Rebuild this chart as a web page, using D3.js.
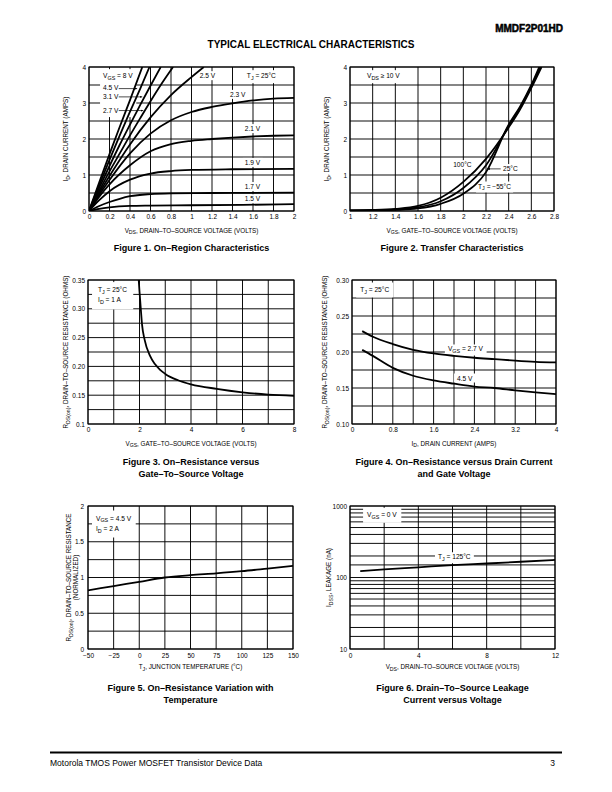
<!DOCTYPE html>
<html><head><meta charset="utf-8">
<script src="https://cdn.jsdelivr.net/npm/d3@7/dist/d3.min.js"></script>
<style>
body{margin:0;background:#fff}
svg{display:block}
text{font-family:"Liberation Sans",Arial,Helvetica,sans-serif;fill:#000}
</style>
</head><body>
<svg id="page" width="612" height="792"></svg>
<script>
// ---------------- DATA ----------------
// Figure 1: On-region characteristics, [VDS, ID]
const fig1XTicks = ["0","0.2","0.4","0.6","0.8","1","1.2","1.4","1.6","1.8","2"];
const fig1YTicks = ["0","1","2","3","4"];
const fig1Vgs8V   = [[0,0],[0.1,0.8],[0.2,1.58],[0.3,2.34],[0.4,3.08],[0.52,4.0]];
const fig1Vgs4p5V = [[0,0],[0.1,0.72],[0.2,1.42],[0.3,2.1],[0.4,2.76],[0.5,3.4],[0.59,4.0]];
const fig1Vgs3p1V = [[0,0],[0.1,0.64],[0.2,1.25],[0.3,1.84],[0.4,2.4],[0.5,2.95],[0.6,3.48],[0.7,4.0]];
const fig1Vgs2p7V = [[0,0],[0.1,0.56],[0.2,1.1],[0.3,1.6],[0.4,2.1],[0.5,2.58],[0.6,3.05],[0.7,3.5],[0.82,4.0]];
const fig1Vgs2p5V = [[0,0],[0.1,0.5],[0.2,0.97],[0.4,1.85],[0.6,2.6],[0.8,3.22],[1.0,3.72],[1.12,4.0]];
const fig1Vgs2p3V = [[0,0],[0.1,0.45],[0.2,0.86],[0.4,1.6],[0.6,2.15],[0.8,2.52],[1.0,2.75],[1.2,2.89],[1.4,2.99],[1.6,3.07],[1.8,3.12],[2.0,3.14]];
const fig1Vgs2p1V = [[0,0],[0.1,0.4],[0.2,0.74],[0.4,1.27],[0.6,1.66],[0.8,1.86],[1.0,1.95],[1.2,2.0],[1.4,2.04],[1.6,2.07],[1.8,2.09],[2.0,2.1]];
const fig1Vgs1p9V = [[0,0],[0.1,0.3],[0.2,0.55],[0.4,0.87],[0.6,1.04],[0.8,1.11],[1.0,1.14],[1.4,1.16],[2.0,1.17]];
const fig1Vgs1p7V = [[0,0],[0.1,0.14],[0.2,0.25],[0.3,0.34],[0.4,0.41],[0.6,0.47],[0.8,0.49],[1.2,0.5],[2.0,0.51]];
const fig1Vgs1p5V = [[0,0],[0.1,0.06],[0.2,0.1],[0.4,0.14],[0.6,0.15],[1.0,0.16],[1.5,0.17],[2.0,0.19]];

// Figure 2: transfer characteristics, [VGS, ID]
const fig2XTicks = ["1","1.2","1.4","1.6","1.8","2","2.2","2.4","2.6","2.8"];
const fig2YTicks = ["0","1","2","3","4"];
const fig2T100 = [[1,0.02],[1.2,0.03],[1.4,0.06],[1.6,0.14],[1.8,0.37],[2.0,0.81],[2.2,1.45],[2.4,2.32],[2.5,2.82],[2.6,3.42],[2.69,4.0]];
const fig2T25  = [[1,0.015],[1.2,0.02],[1.4,0.04],[1.6,0.1],[1.8,0.27],[2.0,0.64],[2.2,1.27],[2.4,2.36],[2.5,2.86],[2.6,3.47],[2.68,4.0]];
const fig2Tm55 = [[1,0.01],[1.2,0.015],[1.4,0.03],[1.6,0.07],[1.8,0.2],[2.0,0.48],[2.2,1.08],[2.4,2.4],[2.5,2.9],[2.6,3.5],[2.67,4.0]];

// Figure 3: RDS(on) vs VGS, [VGS, R]
const fig3XTicks = ["0","2","4","6","8"];
const fig3YTicks = ["0.1","0.15","0.20","0.25","0.30","0.35"];
const fig3Curve = [[1.97,0.35],[2.0,0.33],[2.05,0.3],[2.1,0.272],[2.2,0.246],[2.4,0.219],[2.6,0.204],[2.8,0.194],[3,0.187],[3.5,0.176],[4,0.169],[5,0.161],[6,0.155],[7,0.151],[8,0.149]];

// Figure 4: RDS(on) vs ID, [ID, R]
const fig4XTicks = ["0","0.8","1.6","2.4","3.2","4"];
const fig4YTicks = ["0.10","0.15","0.20","0.25","0.30"];
const fig4Id = [0.2,0.4,0.8,1.2,1.6,2.0,2.4,2.8,3.2,3.6,4.0];
const fig4Vgs2p7V = [0.229,0.2215,0.211,0.203,0.198,0.1947,0.192,0.190,0.188,0.1864,0.1855];
const fig4Vgs4p5V = [0.203,0.195,0.178,0.167,0.1605,0.156,0.152,0.150,0.1467,0.1439,0.1416];

// Figure 5: normalized RDS(on) vs TJ
const fig5XTicks = ["\u221250","\u221225","0","25","50","75","100","125","150"];
const fig5YTicks = ["0","0.5","1","1.5","2"];
const fig5Temp = [-50,-25,0,25,50,75,100,125,150];
const fig5Rnorm = [0.82,0.88,0.94,1.0,1.033,1.058,1.088,1.125,1.163];

// Figure 6: IDSS leakage vs VDS
const fig6XTicks = ["0","4","8","12"];
const fig6YTicks = ["10","100","1000"];
const fig6Vds = [0.6,2,4,6,8,10,12];
const fig6Idss = [123,130,139,149,157,166,176];

// ---------------- DRAWING ----------------
const svg = d3.select("#page");
const defs = svg.append("defs");
defs.append("marker").attr("id","arr").attr("viewBox","0 0 10 10").attr("refX",10).attr("refY",5)
  .attr("markerWidth",4).attr("markerHeight",4).attr("orient","auto-start-reverse")
  .append("path").attr("d","M0,1 L10,5 L0,9 z").attr("fill","#000");

const num = s => +String(s).replace("\u2212","-");

function rich(parent, str, o){
  const t = parent.append("text").attr("x",o.x).attr("y",o.y)
    .attr("font-size",o.size).attr("text-anchor",o.anchor||"start")
    .attr("font-weight",o.weight||"normal");
  if(o.transform) t.attr("transform",o.transform);
  const parts = str.split(/(\{[^}]*\})/).filter(s=>s.length);
  let shifted=false; const sh=o.size*0.3;
  parts.forEach(p=>{
    if(p[0]==="{"){
      const ts=t.append("tspan").text(p.slice(1,-1)).attr("font-size",o.size*0.82);
      if(!shifted){ts.attr("dy",sh);shifted=true;}
    } else {
      const ts=t.append("tspan").text(p);
      if(shifted){ts.attr("dy",-sh);shifted=false;}
    }
  });
  return t;
}

function chart(c){
  const g = svg.append("g");
  const x = d3.scaleLinear().domain(c.xDomain).range([c.left,c.left+c.width]);
  const y = (c.yLog?d3.scaleLog():d3.scaleLinear()).domain(c.yDomain).range([c.top+c.height,c.top]);
  const clipId = "clip"+c.id;
  defs.append("clipPath").attr("id",clipId).append("rect")
    .attr("x",c.left).attr("y",c.top).attr("width",c.width).attr("height",c.height);

  // grid
  g.append("g").selectAll("line").data(c.gridX).join("line")
    .attr("x1",d=>x(d)).attr("x2",d=>x(d)).attr("y1",c.top).attr("y2",c.top+c.height)
    .attr("stroke","#000").attr("stroke-width",0.95);
  g.append("g").selectAll("line").data(c.gridY).join("line")
    .attr("y1",d=>y(d)).attr("y2",d=>y(d)).attr("x1",c.left).attr("x2",c.left+c.width)
    .attr("stroke","#000").attr("stroke-width",0.95);

  // label boxes
  const labG = g.append("g");
  (c.boxes||[]).forEach(b=>{
    const bg = labG.append("g");
    const rect = bg.append("rect").attr("fill","#fff");
    let x0=1e9,y0=1e9,x1=-1e9,y1=-1e9;
    b.items.forEach(it=>{
      const t = rich(bg,it.text,{x:x(it.x),y:y(it.y),size:c.labelSize||6.6});
      const bb=t.node().getBBox();
      x0=Math.min(x0,bb.x);y0=Math.min(y0,bb.y);x1=Math.max(x1,bb.x+bb.width);y1=Math.max(y1,bb.y+bb.height);
    });
    const px=b.padX!=null?b.padX:2, py=b.padY!=null?b.padY:1;
    rect.attr("x",x0-px).attr("y",y0-py).attr("width",x1-x0+2*px).attr("height",y1-y0+2*py);
  });

  // curves
  const line = d3.line().x(d=>x(d[0])).y(d=>y(d[1])).curve(d3.curveMonotoneX);
  g.append("g").attr("clip-path",`url(#${clipId})`).selectAll("path").data(c.series).join("path")
    .attr("d",line).attr("fill","none").attr("stroke","#000").attr("stroke-width",1.8)
    .attr("stroke-linejoin","round");

  // leaders
  (c.leaders||[]).forEach(l=>{
    g.append("line").attr("x1",x(l.x1)).attr("x2",x(l.x2)).attr("y1",y(l.y)).attr("y2",y(l.y))
      .attr("stroke","#000").attr("stroke-width",0.7).attr(l.arrowStart?"marker-start":"marker-end","url(#arr)");
  });

  // frame
  g.append("rect").attr("x",c.left).attr("y",c.top).attr("width",c.width).attr("height",c.height)
    .attr("fill","none").attr("stroke","#000").attr("stroke-width",1);

  // axes
  const ax = g.append("g").attr("transform",`translate(0,${c.top+c.height})`)
    .call(d3.axisBottom(x).tickValues(c.xTicks.map(num)).tickFormat((d,i)=>c.xTicks[i]).tickSize(0).tickPadding(c.xPad||3));
  const ay = g.append("g").attr("transform",`translate(${c.left},0)`)
    .call(d3.axisLeft(y).tickValues(c.yTicks.map(num)).tickFormat((d,i)=>c.yTicks[i]).tickSize(0).tickPadding(c.yPad||3));
  [ax,ay].forEach(a=>{
    a.select(".domain").remove();
    a.attr("font-family",null).attr("font-size",null);
    a.selectAll("text").attr("font-size",6.5).style("font-family",'"Liberation Sans",Arial,sans-serif');
  });

  // titles
  rich(g,c.xTitle,{x:c.left+c.width/2,y:c.top+c.height+c.xTitleOff,size:6.3,anchor:"middle"});
  c.yTitle.forEach((s,i)=>{
    const cx=c.left+c.yTitleOff[i], cy=c.top+c.height/2;
    rich(g,s,{x:0,y:0,size:6.3,anchor:"middle",transform:`translate(${cx},${cy}) rotate(-90)`});
  });
  c.caption.forEach((s,i)=>{
    g.append("text").attr("x",c.left+c.width/2).attr("y",c.capY+i*12).attr("text-anchor","middle")
      .attr("font-size",9).attr("font-weight","bold").text(s);
  });
}

chart({id:1,left:89,top:67,width:205,height:144,xDomain:[0,2],yDomain:[0,4],
  xTicks:fig1XTicks,yTicks:fig1YTicks,gridX:d3.range(0,2.001,0.2),gridY:d3.range(0,4.001,0.5),
  series:[fig1Vgs8V,fig1Vgs4p5V,fig1Vgs3p1V,fig1Vgs2p7V,fig1Vgs2p5V,fig1Vgs2p3V,fig1Vgs2p1V,fig1Vgs1p9V,fig1Vgs1p7V,fig1Vgs1p5V],
  boxes:[
    {items:[{text:"V{GS} = 8 V",x:0.137,y:3.69},{text:"4.5 V",x:0.137,y:3.35},{text:"3.1 V",x:0.137,y:3.11},{text:"2.7 V",x:0.137,y:2.72}],padX:3,padY:3},
    {items:[{text:"2.5 V",x:1.08,y:3.69}]},
    {items:[{text:"T{J} =  25°C",x:1.54,y:3.69}],padX:4,padY:2},
    {items:[{text:"2.3 V",x:1.376,y:3.17}]},
    {items:[{text:"2.1 V",x:1.52,y:2.22}]},
    {items:[{text:"1.9 V",x:1.52,y:1.28}]},
    {items:[{text:"1.7 V",x:1.52,y:0.61}]},
    {items:[{text:"1.5 V",x:1.52,y:0.27}]}
  ],
  leaders:[{x1:0.29,x2:0.47,y:3.40},{x1:0.29,x2:0.52,y:3.17},{x1:0.29,x2:0.53,y:2.79}],
  xTitle:"V{DS}, DRAIN–TO–SOURCE VOLTAGE (VOLTS)",xTitleOff:21.5,
  yTitle:["I{D}, DRAIN CURRENT (AMPS)"],yTitleOff:[-21],
  caption:["Figure 1. On–Region Characteristics"],capY:251});

chart({id:2,left:350,top:67,width:204,height:144,xDomain:[1,2.8],yDomain:[0,4],
  xTicks:fig2XTicks,yTicks:fig2YTicks,gridX:d3.range(1,2.801,0.2),gridY:d3.range(0,4.001,0.5),
  series:[fig2T100,fig2T25,fig2Tm55],
  boxes:[
    {items:[{text:"V{DS} ≥ 10 V",x:1.15,y:3.69}],padX:3,padY:2},
    {items:[{text:"100°C",x:1.91,y:1.22}]},
    {items:[{text:"25°C",x:2.35,y:1.11}]},
    {items:[{text:"T{J} = −55°C",x:2.13,y:0.625}]}
  ],
  leaders:[{x1:2.21,x2:2.33,y:1.17,arrowStart:true}],
  xTitle:"V{GS}, GATE–TO–SOURCE VOLTAGE (VOLTS)",xTitleOff:21.5,
  yTitle:["I{D}, DRAIN CURRENT (AMPS)"],yTitleOff:[-21],
  caption:["Figure 2. Transfer Characteristics"],capY:251});

chart({id:3,left:88,top:280,width:206,height:144,xDomain:[0,8],yDomain:[0.1,0.35],
  xTicks:fig3XTicks,yTicks:fig3YTicks,gridX:d3.range(0,8.001,1),gridY:d3.range(0.1,0.3501,0.025),
  series:[fig3Curve],
  boxes:[
    {items:[{text:"T{J} =  25°C",x:0.39,y:0.329},{text:"I{D} = 1 A",x:0.39,y:0.311}],padX:6,padY:4}
  ],
  xTitle:"V{GS}, GATE–TO–SOURCE VOLTAGE (VOLTS)",xTitleOff:21.5,
  yTitle:["R{DS(on)}, DRAIN–TO–SOURCE RESISTANCE (OHMS)"],yTitleOff:[-20],
  caption:["Figure 3. On–Resistance versus","Gate–To–Source Voltage"],capY:465});

chart({id:4,left:352,top:280,width:204,height:144,xDomain:[0,4],yDomain:[0.1,0.3],
  xTicks:fig4XTicks,yTicks:fig4YTicks,gridX:d3.range(0,4.001,0.4),gridY:d3.range(0.1,0.3001,0.025),
  series:[fig4Id.map((v,i)=>[v,fig4Vgs2p7V[i]]),fig4Id.map((v,i)=>[v,fig4Vgs4p5V[i]])],
  boxes:[
    {items:[{text:"T{J} =  25°C",x:0.16,y:0.284}],padX:4,padY:3},
    {items:[{text:"V{GS} = 2.7 V",x:1.88,y:0.2007}],padX:3,padY:1},
    {items:[{text:"4.5 V",x:2.06,y:0.1604}],padX:3,padY:1}
  ],
  xTitle:"I{D}, DRAIN CURRENT (AMPS)",xTitleOff:21.5,
  yTitle:["R{DS(on)}, DRAIN–TO–SOURCE RESISTANCE (OHMS)"],yTitleOff:[-25],
  caption:["Figure 4. On–Resistance versus Drain Current","and Gate Voltage"],capY:465});

chart({id:5,left:88,top:506,width:205,height:143,xDomain:[-50,150],yDomain:[0,2],
  xTicks:fig5XTicks,yTicks:fig5YTicks,gridX:d3.range(-50,150.01,25),gridY:d3.range(0,2.001,0.25),
  xPad:4.5,yPad:4,
  series:[fig5Temp.map((v,i)=>[v,fig5Rnorm[i]])],
  boxes:[
    {items:[{text:"V{GS} = 4.5 V",x:-42.2,y:1.797},{text:"I{D} = 2 A",x:-42.2,y:1.657}],padX:4,padY:4}
  ],
  xTitle:"T{J}, JUNCTION TEMPERATURE (°C)",xTitleOff:20,
  yTitle:["R{DS(on)}, DRAIN–TO–SOURCE RESISTANCE","(NORMALIZED)"],yTitleOff:[-17,-10],
  caption:["Figure 5. On–Resistance Variation with","Temperature"],capY:691});

chart({id:6,left:350,top:506,width:205,height:143,xDomain:[0,12],yDomain:[10,1000],yLog:true,
  xTicks:fig6XTicks,yTicks:fig6YTicks,gridX:d3.range(0,12.001,2),
  xPad:4.5,
  gridY:[10,15,20,30,40,50,60,70,80,90,100,150,200,300,400,500,600,700,800,900,1000],
  series:[fig6Vds.map((v,i)=>[v,fig6Idss[i]])],
  boxes:[
    {items:[{text:"V{GS} = 0 V",x:1.0,y:706}],padX:4,padY:3},
    {items:[{text:"T{J} = 125°C",x:5.15,y:180}],padX:3,padY:1}
  ],
  xTitle:"V{DS}, DRAIN–TO–SOURCE VOLTAGE (VOLTS)",xTitleOff:20,
  yTitle:["I{DSS}, LEAKAGE (nA)"],yTitleOff:[-19],
  caption:["Figure 6. Drain–To–Source Leakage","Current versus Voltage"],capY:691});

// page header / footer
svg.append("text").attr("x",563).attr("y",32).attr("text-anchor","end").attr("font-size",10)
  .attr("font-weight","bold").attr("stroke","#000").attr("stroke-width",0.5).text("MMDF2P01HD");
svg.append("text").attr("x",311).attr("y",48).attr("text-anchor","middle").attr("font-size",10)
  .attr("font-weight","bold").text("TYPICAL ELECTRICAL CHARACTERISTICS");
svg.append("line").attr("x1",50).attr("x2",562).attr("y1",752.5).attr("y2",752.5).attr("stroke","#000").attr("stroke-width",2);
svg.append("text").attr("x",50).attr("y",766).attr("font-size",8.5).text("Motorola TMOS Power MOSFET Transistor Device Data");
svg.append("text").attr("x",555).attr("y",766).attr("text-anchor","end").attr("font-size",8.5).text("3");
</script>
</body></html>
